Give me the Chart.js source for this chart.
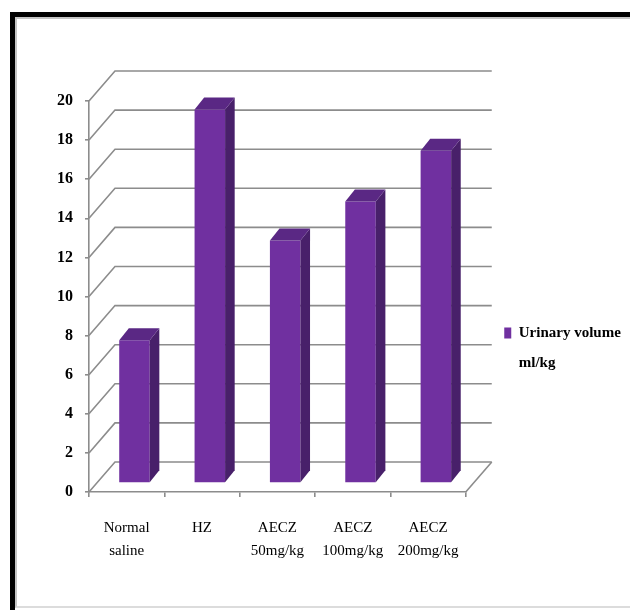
<!DOCTYPE html>
<html>
<head>
<meta charset="utf-8">
<script src="https://cdn.jsdelivr.net/npm/chart.js@4/dist/chart.umd.min.js"></script>
<style>
  html, body { margin: 0; padding: 0; background: #fff; overflow: hidden; width: 630px; height: 610px; }
  .frame { position: absolute; left: 10px; top: 12px; width: 620px; height: 598px; border-top: 5px solid #000; border-left: 5px solid #000; box-sizing: border-box; }
  .frame .inner { position: absolute; left: 0; top: 0; right: 0; bottom: 2px; border-top: 2px solid #c4c4c4; border-left: 2px solid #c4c4c4; border-bottom: 2px solid #dcdcdc; }
  #chart { position: absolute; left: 0; top: 0; }
</style>
</head>
<body>
<div class="frame"><div class="inner"></div></div>
<canvas id="chart" width="630" height="610"></canvas>
<script>
// Urinary volume - 3D column chart
const categories = [
  ['Normal', 'saline'],
  ['HZ'],
  ['AECZ', '50mg/kg'],
  ['AECZ', '100mg/kg'],
  ['AECZ', '200mg/kg']
];
const urinaryVolume = [7.3, 19.1, 12.4, 14.4, 17.0];
const seriesLabel = ['Urinary volume', 'ml/kg'];
const yMin = 0, yMax = 20, yStep = 2;

const gridColor = '#8c8c8c';
const frontColor = '#7030a0';
const sideColor = '#48206a';
const topColor = '#5a2884';
const depth = { x: 26, y: -30 };   // full depth of the box (left wall / floor)
const barFront = 0.3;              // where the bar front face sits inside the box
const barDepth = { x: 9.6, y: -12 };

const box3d = {
  id: 'box3d',
  beforeDatasetsDraw(chart) {
    const { ctx, chartArea: a, scales: { y } } = chart;
    ctx.save();
    ctx.strokeStyle = gridColor;
    ctx.lineWidth = 1.6;
    y.ticks.forEach(t => {
      const py = y.getPixelForValue(t.value);
      ctx.beginPath();
      ctx.moveTo(a.left, py);
      ctx.lineTo(a.left + depth.x, py + depth.y);
      ctx.lineTo(a.right + depth.x, py + depth.y);
      ctx.stroke();
    });
    // right edge of the floor
    ctx.beginPath();
    ctx.moveTo(a.right, a.bottom);
    ctx.lineTo(a.right + depth.x, a.bottom + depth.y);
    ctx.stroke();
    ctx.restore();
    // push the columns back into the box
    ctx.save();
    ctx.translate(depth.x * barFront, depth.y * barFront);
  },
  afterDatasetsDraw(chart) {
    const ctx = chart.ctx;
    const meta = chart.getDatasetMeta(0);
    meta.data.forEach(bar => {
      const { x, y, base, width } = bar.getProps(['x', 'y', 'base', 'width'], true);
      const l = x - width / 2, r = x + width / 2;
      const dx = barDepth.x, dy = barDepth.y;
      ctx.fillStyle = sideColor;
      ctx.beginPath();
      ctx.moveTo(r, y);
      ctx.lineTo(r + dx, y + dy);
      ctx.lineTo(r + dx, base + dy);
      ctx.lineTo(r, base);
      ctx.closePath();
      ctx.fill();
      ctx.fillStyle = topColor;
      ctx.beginPath();
      ctx.moveTo(l, y);
      ctx.lineTo(r, y);
      ctx.lineTo(r + dx, y + dy);
      ctx.lineTo(l + dx, y + dy);
      ctx.closePath();
      ctx.fill();
    });
    ctx.restore();
  }
};

new Chart(document.getElementById('chart').getContext('2d'), {
  type: 'bar',
  data: {
    labels: categories,
    datasets: [{
      label: seriesLabel.join(' '),
      data: urinaryVolume,
      backgroundColor: frontColor,
      borderWidth: 0,
      barPercentage: 0.405,
      categoryPercentage: 1,
      clip: false
    }]
  },
  options: {
    responsive: false,
    animation: false,
    // legend width is capped at 1/4 of the padded width, so the right padding sets the plot edge
    layout: { padding: { top: 101, left: 0, right: 9, bottom: 0 } },
    plugins: {
      tooltip: { enabled: false },
      legend: {
        position: 'right',
        labels: {
          color: '#000',
          boxWidth: 7,
          boxHeight: 11,
          padding: 38.5,
          font: { family: '"Liberation Serif", "Times New Roman", serif', size: 15, weight: 'bold', lineHeight: 2 },
          generateLabels: chart => Chart.defaults.plugins.legend.labels.generateLabels(chart)
            .map(item => ({ ...item, text: seriesLabel, lineWidth: 0 }))
        }
      }
    },
    scales: {
      x: {
        afterFit: s => { s.height = 118; },
        grid: { display: true, drawOnChartArea: false, offset: true, tickLength: 5, color: gridColor, lineWidth: 1.6 },
        border: { color: gridColor, width: 1.6 },
        ticks: {
          color: '#000',
          padding: 19,
          maxRotation: 0,
          font: { family: '"Liberation Serif", "Times New Roman", serif', size: 15, lineHeight: 1.55 }
        }
      },
      y: {
        min: yMin,
        max: yMax,
        afterFit: s => { s.width = 89; },
        grid: { display: true, drawOnChartArea: false, tickLength: 4, color: gridColor, lineWidth: 1.6 },
        border: { color: gridColor, width: 1.6 },
        ticks: {
          stepSize: yStep,
          color: '#000',
          padding: 12,
          font: { family: '"Liberation Serif", "Times New Roman", serif', size: 16, weight: 'bold' }
        }
      }
    }
  },
  plugins: [box3d]
});
</script>
</body>
</html>
